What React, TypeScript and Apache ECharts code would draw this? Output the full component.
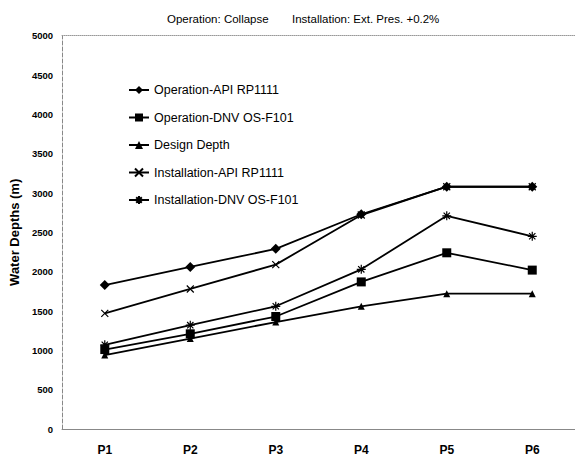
import React, { useEffect, useRef } from "react";
import * as echarts from "echarts";

const categories = ["P1", "P2", "P3", "P4", "P5", "P6"];
const opApi = [1830, 2060, 2290, 2730, 3080, 3080];
const opDnv = [1010, 1210, 1430, 1870, 2240, 2020];
const designDepth = [940, 1150, 1360, 1560, 1720, 1720];
const instApi = [1470, 1780, 2090, 2720, 3080, 3080];
const instDnv = [1070, 1320, 1560, 2030, 2710, 2450];
const yTicks = { min: 0, max: 5000, interval: 500 };

const X_SYMBOL = "path://M0,0L10,10M10,0L0,10";
const STAR_SYMBOL = "path://M0,5L10,5M5,0L5,10M1.5,1.5L8.5,8.5M8.5,1.5L1.5,8.5";

export default function App() {
  const ref = useRef<HTMLDivElement>(null);
  useEffect(() => {
    document.body.style.margin = "0";
    if (!ref.current) return;
    const chart = echarts.init(ref.current, null, { renderer: "svg" });
    const font = "'Liberation Sans', Arial, sans-serif";
    const mk = (name: string, data: number[], symbol: string, size: number, extra: any = {}) => ({
      name,
      type: "line",
      data,
      symbol,
      symbolSize: size,
      showSymbol: true,
      color: "#000",
      lineStyle: { color: "#000", width: 1.8 },
      itemStyle: { color: "#000", borderColor: "#000", borderWidth: extra.bw ?? 0 },
      z: extra.z ?? 2,
    });
    const titleStyle = { fontSize: 11.5, fontWeight: "normal", color: "#000", fontFamily: font };
    chart.setOption({
      animation: false,
      backgroundColor: "#fff",
      textStyle: { fontFamily: font, color: "#000" },
      title: [
        { text: "Operation: Collapse", left: 162, top: 8, textStyle: titleStyle },
        { text: "Installation: Ext. Pres. +0.2%", left: 287, top: 8, textStyle: titleStyle },
      ],
      legend: {
        orient: "vertical",
        left: 123,
        top: 78,
        itemGap: 13.5,
        itemWidth: 20,
        itemHeight: 10,
        textStyle: { fontSize: 12.5, lineHeight: 14, color: "#000", fontFamily: font },
        data: [
          "Operation-API RP1111",
          "Operation-DNV OS-F101",
          "Design Depth",
          "Installation-API RP1111",
          "Installation-DNV OS-F101",
        ],
      },
      grid: { left: 54.5, right: -2.6, top: 35.7, bottom: 30, containLabel: false },
      xAxis: [
        {
          type: "category",
          data: categories,
          boundaryGap: true,
          axisLine: { show: true, lineStyle: { color: "#888", width: 1 } },
          axisTick: { show: false },
          axisLabel: { fontSize: 12, fontWeight: "bold", color: "#000", margin: 15, fontFamily: font },
          splitLine: { show: false },
        },
        {
          type: "category",
          data: categories,
          position: "top",
          axisLine: { show: true, lineStyle: { color: "#999", width: 1, type: "dotted" } },
          axisTick: { show: false },
          axisLabel: { show: false },
        },
      ],
      yAxis: {
        type: "value",
        min: yTicks.min,
        max: yTicks.max,
        interval: yTicks.interval,
        name: "Water Depths (m)",
        nameLocation: "middle",
        nameRotate: 90,
        nameGap: 29,
        nameTextStyle: { fontSize: 13, fontWeight: "bold", color: "#000", fontFamily: font },
        axisLine: { show: true, lineStyle: { color: "#888", width: 1, type: "dashed" } },
        axisTick: { show: false },
        axisLabel: {
          fontSize: 9.5,
          fontWeight: "bold",
          color: "#000",
          margin: 9,
          fontFamily: font,
          formatter: (v: number) => String(v),
        },
        splitLine: { show: false },
      },
      series: [
        mk("Operation-API RP1111", opApi, "diamond", 10, { z: 4 }),
        mk("Operation-DNV OS-F101", opDnv, "rect", 9),
        mk("Design Depth", designDepth, "triangle", 7),
        mk("Installation-API RP1111", instApi, X_SYMBOL, 7, { bw: 1.2, z: 1 }),
        mk("Installation-DNV OS-F101", instDnv, STAR_SYMBOL, 9, { bw: 1.2 }),
      ],
    });
    return () => chart.dispose();
  }, []);
  return <div ref={ref} style={{ width: 575, height: 459 }} />;
}
